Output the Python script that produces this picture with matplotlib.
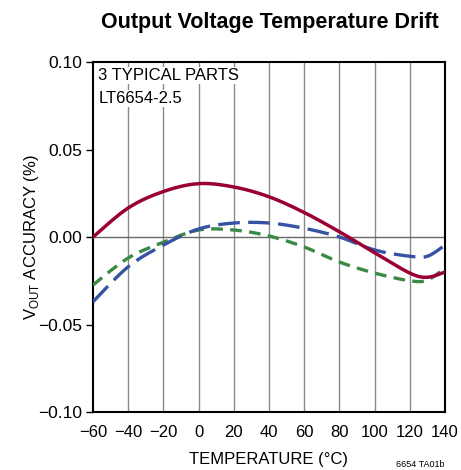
import matplotlib.pyplot as plt
from matplotlib import font_manager

temps = [-60, -40, -20, 0, 20, 40, 60, 80, 100, 120, 130, 140]
part_red = [0.000, 0.0166, 0.026, 0.0305, 0.0286, 0.023, 0.014, 0.003, -0.009, -0.0206, -0.023, -0.020]
part_blue = [-0.037, -0.017, -0.0046, 0.0046, 0.008, 0.008, 0.005, 0.000, -0.0074, -0.011, -0.011, -0.0046]
part_green = [-0.0274, -0.012, -0.003, 0.004, 0.004, 0.0006, -0.0057, -0.0143, -0.0206, -0.025, -0.0246, -0.0177]

x_ticks = [-60, -40, -20, 0, 20, 40, 60, 80, 100, 120, 140]
y_ticks = [-0.10, -0.05, 0.00, 0.05, 0.10]
y_ticklabels = ["\u22120.10", "\u22120.05", "0.00", "0.05", "0.10"]
x_ticklabels = [("\u2212" + str(-t)) if t < 0 else str(t) for t in x_ticks]

names = {f.name for f in font_manager.fontManager.ttflist}
narrow = "Liberation Sans Narrow" if "Liberation Sans Narrow" in names else "Liberation Sans"
plt.rcParams['font.family'] = [narrow, 'DejaVu Sans']
plt.rcParams['mathtext.fontset'] = 'custom'
plt.rcParams['mathtext.rm'] = narrow

fig = plt.figure(figsize=(4.61, 4.70), dpi=100)
ax = fig.add_axes([0.2017, 0.1234, 0.7636, 0.7446])


def smooth(x, y):
    # Catmull-Rom curve through the read points
    xs, ys = [], []
    pts = list(zip(x, y))
    for i in range(len(pts) - 1):
        p0 = pts[i - 1] if i > 0 else pts[i]
        p1, p2 = pts[i], pts[i + 1]
        p3 = pts[i + 2] if i + 2 < len(pts) else pts[i + 1]
        for k in range(30):
            t = k / 30
            t2, t3 = t * t, t * t * t
            for idx, arr in ((0, xs), (1, ys)):
                arr.append(0.5 * ((2 * p1[idx]) + (-p0[idx] + p2[idx]) * t
                                  + (2 * p0[idx] - 5 * p1[idx] + 4 * p2[idx] - p3[idx]) * t2
                                  + (-p0[idx] + 3 * p1[idx] - 3 * p2[idx] + p3[idx]) * t3))
    xs.append(x[-1]); ys.append(y[-1])
    return xs, ys


ax.plot(*smooth(temps, part_green), color='#3a8a45', lw=2.4, dashes=(3.5, 2.2), zorder=3)
ax.plot(*smooth(temps, part_blue), color='#3552a3', lw=2.4, dashes=(6.5, 2.5), zorder=3)
ax.plot(*smooth(temps, part_red), color='#9a0033', lw=2.5, zorder=4)

ax.set_xlim(-60, 140)
ax.set_ylim(-0.10, 0.10)
ax.set_xticks(x_ticks)
ax.set_xticklabels(x_ticklabels, fontsize=12)
ax.set_yticks(y_ticks)
ax.set_yticklabels(y_ticklabels, fontsize=12.5)
ax.tick_params(axis='x', length=0, pad=9)
ax.tick_params(axis='y', length=5, width=1, direction='out', pad=3)

for t in x_ticks[1:-1]:
    ax.axvline(t, color='#8a8a8a', lw=1, zorder=1)
ax.axhline(0, color='#6a6a6a', lw=1, zorder=1)
for s in ax.spines.values():
    s.set_linewidth(1.5)

ax.text(-57, 0.0965, "3 TYPICAL PARTS", fontsize=12, va='top', ha='left',
        bbox=dict(facecolor='white', edgecolor='none', pad=0.5), zorder=5)
ax.text(-57, 0.0835, "LT6654-2.5", fontsize=12, va='top', ha='left',
        bbox=dict(facecolor='white', edgecolor='none', pad=0.5), zorder=5)

ax.set_xlabel("TEMPERATURE (\u00b0C)", fontsize=12, labelpad=9)
ax.set_ylabel(r"V$_{\mathrm{OUT}}$ ACCURACY (%)", fontsize=12, labelpad=-2)

fig.text(0.585, 0.952, "Output Voltage Temperature Drift", fontsize=15.5,
         fontweight='bold', ha='center', va='center')
fig.text(0.965, 0.003, "6654 TA01b", fontsize=6.5, ha='right', va='bottom')

fig.savefig("out.png", dpi=100)
plt.close()
